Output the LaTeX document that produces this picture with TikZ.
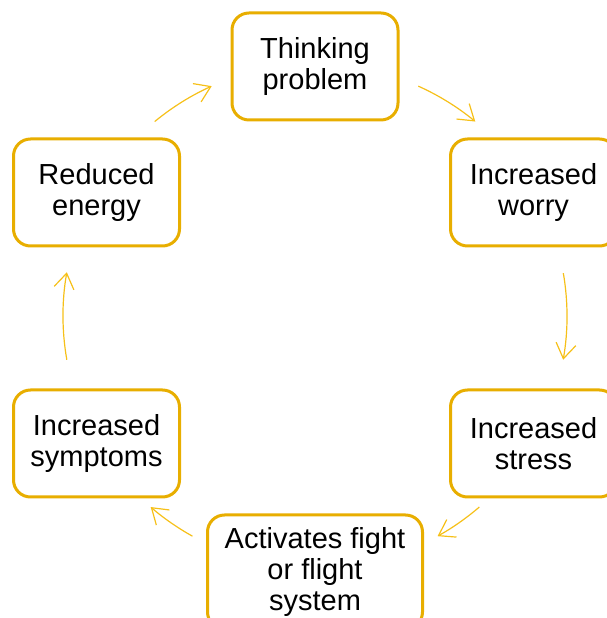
\documentclass[tikz,border=0pt]{standalone}
\usepackage{fontspec}
\setmainfont{Liberation Sans}
\usetikzlibrary{arrows.meta}
\definecolor{boxgold}{RGB}{232,174,0}
\definecolor{arrgold}{RGB}{246,192,24}
\tikzset{
  stage/.style={draw=boxgold, line width=3pt, rounded corners=17pt, fill=white,
    minimum width=166pt, minimum height=107pt, align=center, inner sep=2pt,
    font=\fontsize{29}{31}\selectfont, text=black},
  cyc/.style={draw=arrgold, line width=1.2pt, -{Straight Barb[length=15pt,width=20pt,line width=1.2pt]}}
}
\begin{document}
\begin{tikzpicture}[x=1pt,y=1pt]
\useasboundingbox (0,0) rectangle (606,618);
\coordinate (c) at (315,302);
\node[stage] (think) at (315,551.5) {Thinking\\problem};
\node[stage] (worry) at (533.5,425.5) {Increased\\worry};
\node[stage] (stress) at (533.5,174.5) {Increased\\stress};
\node[stage, minimum width=215pt, minimum height=114pt] (act) at (315,46) {Activates fight\\or flight\\system};
\node[stage] (symp) at (96.5,174.5) {Increased\\symptoms};
\node[stage] (energy) at (96.5,425.5) {Reduced\\energy};
\draw[cyc] ([shift={(65.8:252)}]c) arc[start angle=65.8, end angle=50.5, radius=252pt];
\draw[cyc] ([shift={(9.8:252)}]c) arc[start angle=9.8, end angle=-10, radius=252pt];
\draw[cyc] ([shift={(-49.3:252)}]c) arc[start angle=-49.3, end angle=-60.9, radius=252pt];
\draw[cyc] ([shift={(-119.1:252)}]c) arc[start angle=-119.1, end angle=-130.7, radius=252pt];
\draw[cyc] ([shift={(-170:252)}]c) arc[start angle=-170, end angle=-190, radius=252pt];
\draw[cyc] ([shift={(129.5:252)}]c) arc[start angle=129.5, end angle=114.2, radius=252pt];
\end{tikzpicture}
\end{document}
